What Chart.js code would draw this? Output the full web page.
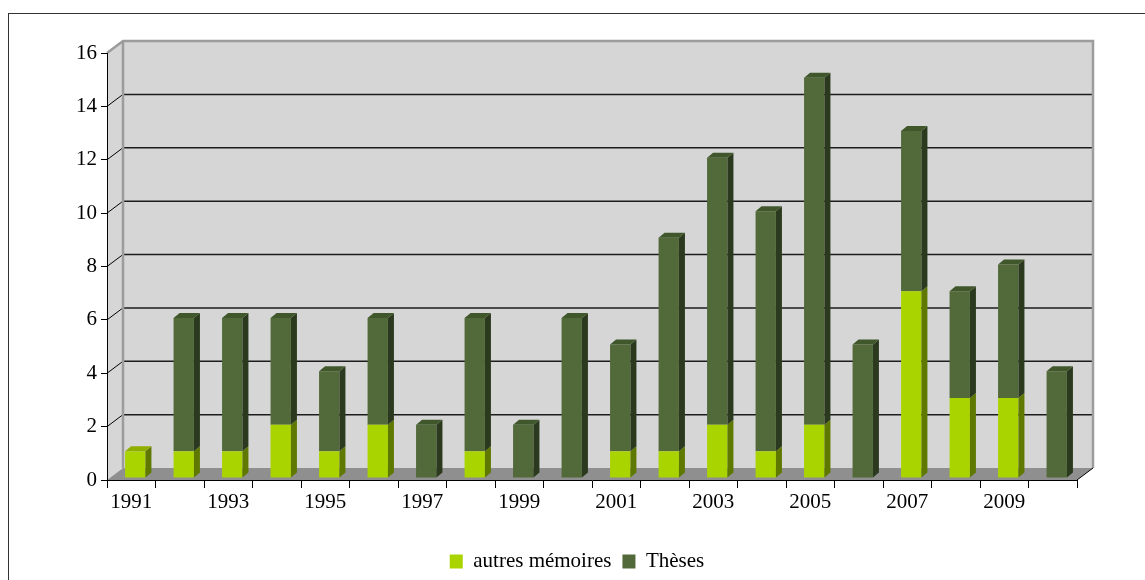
<!DOCTYPE html>
<html>
<head>
<meta charset="utf-8">
<script src="https://cdn.jsdelivr.net/npm/chart.js@4"></script>
<style>
  body { margin: 0; background: #fff; }
  canvas { display: block; }
</style>
</head>
<body>
<canvas id="chart" width="1145" height="580"></canvas>
<script>
// Données
const years = ['1991', '1992', '1993', '1994', '1995', '1996', '1997', '1998', '1999', '2000',
  '2001', '2002', '2003', '2004', '2005', '2006', '2007', '2008', '2009', '2010'];
const autresMemoires = [1, 1, 1, 2, 1, 2, 0, 1, 0, 0, 1, 1, 2, 1, 2, 0, 7, 3, 3, 0];
const theses = [0, 5, 5, 4, 3, 4, 2, 5, 2, 6, 4, 8, 10, 9, 13, 5, 6, 4, 5, 4];
const yTicks = [0, 2, 4, 6, 8, 10, 12, 14, 16];

// Effet 3D
const DX = 16, DY = 12;   // profondeur des murs
const BX = 6, BY = 5;     // profondeur des barres
const SHIFT_X = 4, SHIFT_Y = -2;
const sideColors = ['#5f7800', '#2b3a1e'];
const topColors = ['#8fae00', '#40572c'];

function poly(ctx, pts, color) {
  ctx.beginPath();
  ctx.moveTo(pts[0][0], pts[0][1]);
  for (let i = 1; i < pts.length; i++) ctx.lineTo(pts[i][0], pts[i][1]);
  ctx.closePath();
  ctx.fillStyle = color;
  ctx.fill();
}

function line(ctx, x1, y1, x2, y2, color, w) {
  ctx.beginPath();
  ctx.moveTo(x1, y1);
  ctx.lineTo(x2, y2);
  ctx.strokeStyle = color;
  ctx.lineWidth = w;
  ctx.stroke();
}

const scene3d = {
  id: 'scene3d',
  beforeDraw(chart) {
    const { ctx, chartArea: a } = chart;
    const y = chart.scales.y;
    ctx.save();
    // cadre
    ctx.strokeStyle = '#333';
    ctx.lineWidth = 1;
    ctx.strokeRect(8.5, 13.5, 1300, 800);

    // murs
    ctx.fillStyle = '#d6d6d6';
    ctx.fillRect(a.left + DX, a.top - DY, a.right - a.left, a.bottom - a.top);
    poly(ctx, [[a.left, a.bottom], [a.left + DX, a.bottom - DY], [a.left + DX, a.top - DY], [a.left, a.top]], '#d6d6d6');

    // quadrillage
    yTicks.forEach(v => {
      if (v === 0) return;
      const py = y.getPixelForValue(v);
      line(ctx, a.left + DX, py - DY, a.right + DX, py - DY, '#1c1c1c', 1.5);
      line(ctx, a.left, py, a.left + DX, py - DY, '#000', 1);
    });

    // sol
    poly(ctx, [[a.left, a.bottom], [a.right, a.bottom], [a.right + DX, a.bottom - DY], [a.left + DX, a.bottom - DY]], '#8f8f8f');

    // arêtes grises
    ctx.beginPath();
    ctx.moveTo(a.left, a.top);
    ctx.lineTo(a.left + DX, a.top - DY);
    ctx.lineTo(a.right + DX, a.top - DY);
    ctx.lineTo(a.right + DX, a.bottom - DY);
    ctx.moveTo(a.left + DX, a.top - DY);
    ctx.lineTo(a.left + DX, a.bottom - DY);
    ctx.strokeStyle = '#9c9c9c';
    ctx.lineWidth = 2.5;
    ctx.stroke();

    line(ctx, a.right, a.bottom, a.right + DX, a.bottom - DY, '#000', 1);
    ctx.restore();
  },
  beforeDatasetsDraw(chart) {
    chart.ctx.save();
    chart.ctx.translate(SHIFT_X, SHIFT_Y);
  },
  afterDatasetsDraw(chart) {
    const ctx = chart.ctx;
    const sets = chart.data.datasets;
    years.forEach((_, i) => {
      let topIdx = -1;
      sets.forEach((ds, d) => { if (ds.data[i] > 0) topIdx = d; });
      sets.forEach((ds, d) => {
        if (ds.data[i] <= 0) return;
        const bar = chart.getDatasetMeta(d).data[i];
        const l = bar.x - bar.width / 2, r = bar.x + bar.width / 2;
        const t = Math.min(bar.y, bar.base), b = Math.max(bar.y, bar.base);
        poly(ctx, [[r, b], [r + BX, b - BY], [r + BX, t - BY], [r, t]], sideColors[d]);
        if (d === topIdx) {
          poly(ctx, [[l, t], [r, t], [r + BX, t - BY], [l + BX, t - BY]], topColors[d]);
        }
      });
    });
    ctx.restore();
  }
};

Chart.defaults.font.family = '"Liberation Serif", "DejaVu Serif", serif';
Chart.defaults.font.size = 21;
Chart.defaults.color = '#000';

new Chart(document.getElementById('chart'), {
  type: 'bar',
  data: {
    labels: years,
    datasets: [
      {
        label: 'autres mémoires',
        data: autresMemoires,
        backgroundColor: '#aad400',
        borderWidth: 0
      },
      {
        label: 'Thèses',
        data: theses,
        backgroundColor: '#52693a',
        borderWidth: 0
      }
    ]
  },
  options: {
    responsive: false,
    animation: false,
    barPercentage: 0.42,
    categoryPercentage: 1,
    layout: { padding: { top: 53, left: 9, right: 0, bottom: -2 } },
    plugins: {
      tooltip: { enabled: false },
      legend: {
        position: 'bottom',
        labels: { boxWidth: 13, boxHeight: 14, padding: 11 }
      }
    },
    scales: {
      x: {
        stacked: true,
        grid: { offset: true, drawOnChartArea: false, color: '#000', tickLength: 8 },
        border: { color: '#000' },
        ticks: {
          autoSkip: false,
          maxRotation: 0,
          padding: 2,
          callback: (v, i) => (i % 2 === 0 ? years[i] : '')
        },
        afterFit: s => { s.height = 60; }
      },
      y: {
        stacked: true,
        min: 0,
        max: 16,
        grid: { drawOnChartArea: false, color: '#000', tickLength: 6 },
        border: { color: '#000' },
        ticks: { stepSize: 2, padding: 4 },
        afterFit: s => { s.width = 98; }
      },
      yRight: {
        position: 'right',
        grid: { display: false },
        border: { display: false },
        ticks: { display: false },
        afterFit: s => { s.width = 68; }
      }
    }
  },
  plugins: [scene3d]
});
</script>
</body>
</html>
